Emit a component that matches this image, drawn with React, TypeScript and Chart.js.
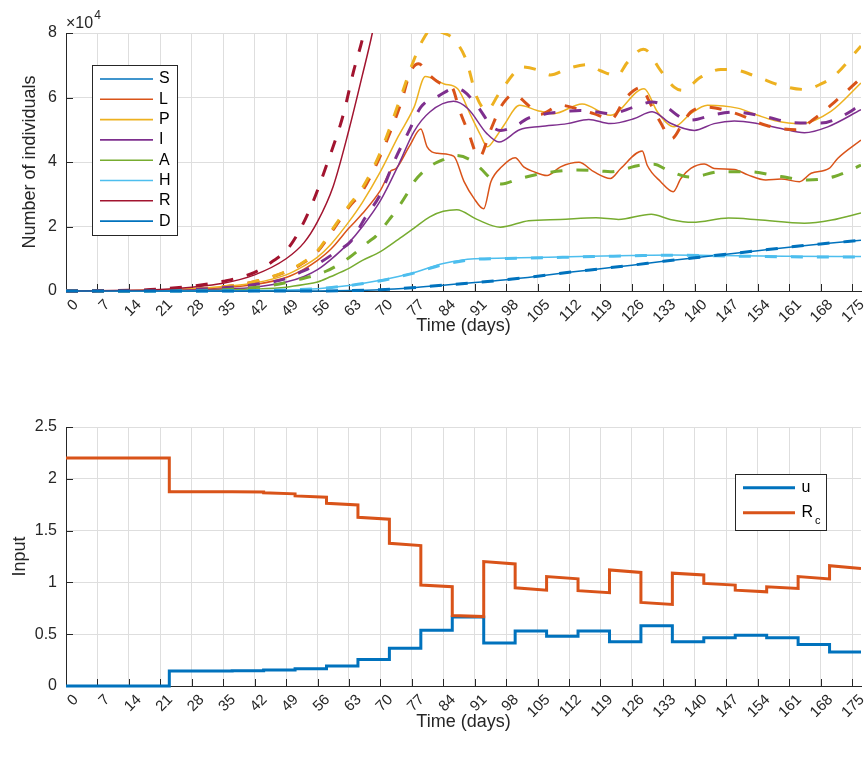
import React, { useEffect, useRef } from "react";
import { Chart, registerables } from "chart.js";

Chart.register(...registerables);

type Pt = [number, number];

// ---- Epidemic states (units of 10^4 individuals), solid = one run, dashed = the other ----
const DAY_TICKS = [0, 7, 14, 21, 28, 35, 42, 49, 56, 63, 70, 77, 84, 91, 98, 105, 112, 119, 126, 133, 140, 147, 154, 161, 168, 175];
const POP_TICKS = [0, 2, 4, 6, 8];

const S_SOLID: Pt[] = [];
const L_SOLID: Pt[] = [[0,0],[14,0.005],[21,0.02],[28,0.05],[35,0.1],[42,0.2],[49,0.42],[53,0.68],[56,0.95],[59,1.3],[63,1.95],[66,2.4],[70,3.12],[72.3,3.72],[73.5,3.8],[76.5,4.5],[79,5.02],[80.4,4.47],[82.7,4.27],[86.3,4.18],[88.6,3.4],[90.8,2.88],[93,2.55],[94.6,3.39],[97,3.85],[100,4.13],[101.9,3.85],[104.1,3.7],[107.1,3.58],[110.1,3.85],[114.2,3.99],[117.5,3.7],[121.2,3.49],[123.5,3.8],[128.3,4.34],[129.4,3.9],[132.4,3.39],[135.2,3.08],[136.9,3.49],[139.1,3.8],[142.1,3.94],[144.3,3.8],[148.8,3.77],[151.8,3.6],[155.8,3.44],[159.2,3.47],[163.3,3.39],[165.9,3.65],[169.9,3.8],[171.8,4.11],[177,4.68]];
const P_SOLID: Pt[] = [[0,0],[14,0.01],[21,0.03],[28,0.07],[35,0.14],[42,0.25],[49,0.5],[53,0.78],[56,1.05],[59,1.45],[63,2.15],[66,2.75],[70,3.7],[74,4.8],[77.5,5.7],[80,6.65],[84.2,6.42],[87.2,6.27],[90.1,5.45],[92.3,4.83],[93.8,4.47],[96,4.83],[97.5,5.14],[101,5.76],[104.9,5.6],[108.6,5.5],[114.9,5.8],[121.2,5.45],[128.7,6.27],[131.7,5.55],[135.4,5.09],[139.1,5.5],[142.8,5.76],[149.5,5.67],[154,5.45],[157.7,5.29],[163.6,5.19],[170.3,5.57],[177,6.45]];
const I_SOLID: Pt[] = [[0,0],[21,0.01],[28,0.03],[35,0.06],[42,0.12],[49,0.28],[53,0.45],[56,0.66],[59,0.98],[63,1.5],[66,2.0],[70,2.8],[74,3.9],[77.5,4.95],[81,5.55],[86.3,5.88],[89.5,5.65],[93.7,4.88],[96.4,4.62],[101,5.0],[105.6,5.1],[111.6,5.19],[116.4,5.32],[121.2,5.19],[126.4,5.34],[130.5,5.56],[134.6,5.2],[139.9,4.98],[144.3,5.19],[148.8,5.27],[154,5.19],[159.2,5.04],[164.4,4.91],[169.6,5.09],[177,5.62]];
const A_SOLID: Pt[] = [[0,0],[28,0.01],[35,0.03],[42,0.06],[49,0.12],[53,0.2],[56,0.28],[59,0.45],[63,0.7],[66,0.95],[70,1.22],[74,1.6],[77.5,1.95],[81,2.3],[84,2.47],[87,2.52],[91.5,2.22],[96.7,1.98],[103,2.18],[110,2.22],[118,2.27],[123,2.22],[130.3,2.38],[134.5,2.22],[139.5,2.13],[147.5,2.26],[154,2.21],[164.4,2.1],[170.5,2.2],[177,2.42]];
const H_SOLID: Pt[] = [[0,0],[35,0.005],[42,0.012],[49,0.03],[56,0.07],[63,0.17],[70,0.33],[77,0.55],[84,0.85],[91,1.0],[98,1.02],[112,1.06],[126,1.1],[135,1.12],[145,1.1],[160,1.08],[177,1.07]];
const R_SOLID: Pt[] = [[0,0],[7,0.005],[14,0.02],[21,0.05],[28,0.12],[35,0.24],[42,0.5],[49,1.0],[53,1.5],[56,2.15],[59.5,3.25],[63,5.0],[66,6.7],[68.2,8.0],[70,9.3]];
const D_SOLID: Pt[] = [[0,0],[56,0.003],[63,0.012],[70,0.04],[77,0.1],[84,0.18],[91,0.26],[98,0.35],[105,0.46],[112,0.58],[119,0.69],[126,0.8],[133,0.92],[140,1.03],[147,1.14],[154,1.25],[161,1.36],[168,1.46],[177,1.57]];

const L_DASHED: Pt[] = [[0,0],[14,0.01],[21,0.03],[28,0.06],[34,0.11],[41,0.26],[48.4,0.56],[52,0.8],[56,1.22],[59.5,1.9],[63,2.6],[66,3.1],[70,4.2],[74.5,5.8],[76.7,6.8],[78.5,7.05],[80.5,6.75],[84,6.4],[86,6.3],[87.5,5.65],[89.5,4.95],[92,4.15],[94.5,4.98],[97,5.75],[99.8,6.1],[102.6,5.8],[105.6,5.48],[110.1,5.76],[113.8,5.65],[117.5,5.5],[121.3,5.33],[124.7,6.0],[128.3,6.32],[129.6,5.95],[132.4,5.22],[134.8,4.72],[137.5,5.25],[139.1,5.55],[142.8,5.7],[148.8,5.52],[155.8,5.14],[162.5,5.0],[166.6,5.34],[171.1,5.86],[177,6.6]];
const P_DASHED: Pt[] = [[0,0],[14,0.01],[21,0.03],[28,0.06],[34,0.11],[41,0.26],[48.4,0.57],[52,0.82],[56,1.25],[59.5,1.95],[63,2.65],[66,3.2],[70,4.3],[74.5,6.0],[77,7.0],[79.5,7.8],[81.5,8.12],[84,8.0],[86,7.85],[89,7.2],[91.5,6.0],[93.7,5.6],[96.3,6.1],[99.6,6.73],[101.1,6.95],[105.6,6.83],[107.8,6.7],[111.6,6.89],[116,7.02],[119,6.83],[122.7,6.68],[125,7.09],[128.5,7.5],[129.4,7.45],[132.4,6.83],[135.4,6.32],[137.2,6.22],[141.3,6.63],[145.8,6.87],[148.8,6.86],[154,6.63],[159.2,6.37],[164.4,6.25],[168.1,6.42],[171.1,6.68],[177,7.6]];
const I_DASHED: Pt[] = [[0,0],[21,0.02],[28,0.05],[35,0.1],[42,0.2],[48.4,0.36],[52,0.57],[55.8,0.82],[60.3,1.23],[63.5,1.55],[66.5,2.25],[70,3.0],[73,4.0],[76.5,5.0],[79,5.7],[83,6.05],[86.5,6.28],[88.5,6.2],[91.5,5.75],[95,5.08],[96.8,4.98],[100.4,5.14],[102.6,5.34],[107.1,5.5],[111.6,5.57],[114.5,5.6],[118.2,5.55],[121.2,5.5],[126.4,5.7],[130.5,5.86],[133.1,5.76],[136.9,5.38],[139.1,5.3],[144.3,5.47],[148.8,5.55],[155.8,5.4],[162.1,5.22],[168.1,5.21],[172.5,5.4],[177,5.78]];
const A_DASHED: Pt[] = [[0,0],[28,0.01],[35,0.04],[44.7,0.15],[52,0.36],[58,0.62],[63,1.03],[67.5,1.54],[69,1.7],[72,2.22],[73,2.4],[76,3.03],[77,3.29],[80.4,3.8],[84.5,4.1],[86.8,4.2],[90.1,4.06],[92.3,3.8],[95,3.44],[97,3.32],[101.1,3.49],[106.3,3.65],[113.8,3.75],[119,3.72],[121.2,3.7],[127.9,3.9],[130.9,3.93],[133.9,3.75],[139.1,3.53],[145.8,3.7],[151.7,3.7],[159.2,3.55],[165.1,3.44],[171.1,3.55],[177,3.9]];
const H_DASHED: Pt[] = [[0,0],[35,0.005],[42,0.012],[49,0.03],[56,0.07],[63,0.17],[70,0.32],[77,0.54],[84,0.82],[91,0.98],[98,1.01],[112,1.05],[126,1.09],[135,1.11],[145,1.09],[160,1.06],[177,1.05]];
const R_DASHED: Pt[] = [[0,0],[7,0.005],[14,0.02],[21,0.06],[28,0.15],[35,0.3],[42,0.58],[46,0.92],[49,1.25],[51.5,1.75],[55,2.77],[58,3.9],[61.7,5.45],[64,6.8],[66.3,8.0],[68,9.3]];
const D_DASHED: Pt[] = [[0,0],[56,0.003],[63,0.012],[70,0.04],[77,0.1],[84,0.18],[91,0.26],[98,0.35],[105,0.46],[112,0.58],[119,0.69],[126,0.8],[133,0.92],[140,1.03],[147,1.14],[154,1.25],[161,1.36],[168,1.46],[177,1.57]];

// ---- Control input: weekly piecewise-constant u and the resulting R_c ----
const STEP_DAYS = [0, 23, 30, 37, 44, 51, 58, 65, 72, 79, 86, 93, 100, 107, 114, 121, 128, 135, 142, 149, 156, 163, 170, 177];
const U_LEVELS = [0, 0.145, 0.145, 0.147, 0.155, 0.167, 0.193, 0.255, 0.364, 0.539, 0.665, 0.416, 0.532, 0.48, 0.532, 0.426, 0.581, 0.426, 0.465, 0.49, 0.465, 0.4, 0.329];
const RC_START = [2.2, 1.876, 1.876, 1.875, 1.866, 1.835, 1.764, 1.629, 1.378, 0.975, 0.68, 1.201, 0.948, 1.057, 0.92, 1.12, 0.807, 1.089, 0.99, 0.925, 0.957, 1.057, 1.161];
const RC_END = [2.2, 1.876, 1.875, 1.873, 1.855, 1.822, 1.748, 1.61, 1.355, 0.958, 0.67, 1.178, 0.925, 1.034, 0.9, 1.096, 0.787, 1.072, 0.974, 0.909, 0.941, 1.034, 1.135];
const INPUT_TICKS = [0, 0.5, 1, 1.5, 2, 2.5];

const FONT = "'Liberation Sans', Arial, Helvetica, sans-serif";
const AXIS = "#262626";
const GRID = "#dedede";
const C = {
  blue: "#0072BD",
  orange: "#D95319",
  yellow: "#EDB120",
  purple: "#7E2F8E",
  green: "#77AC30",
  cyan: "#4DBEEE",
  red: "#A2142F",
};

// lines may spill over the bottom/left axis by their own width, but stop at the top edge
const LINE_CLIP = { left: 2, top: 0, right: 0, bottom: 3 };

const toXY = (pts: Pt[]) => pts.map(([x, y]) => ({ x, y }));

function stepSeries(starts: number[], ends: number[]) {
  const out: { x: number; y: number }[] = [];
  for (let i = 0; i < starts.length; i++) {
    out.push({ x: STEP_DAYS[i], y: starts[i] });
    out.push({ x: STEP_DAYS[i + 1], y: ends[i] });
  }
  return out;
}

const inwardTicks = {
  id: "inwardTicks",
  beforeDatasetsDraw(chart: any) {
    const { ctx, chartArea, scales } = chart;
    ctx.save();
    ctx.strokeStyle = AXIS;
    ctx.lineWidth = 1;
    ctx.beginPath();
    scales.x.ticks.forEach((t: any) => {
      const px = Math.round(scales.x.getPixelForValue(t.value)) + 0.5;
      ctx.moveTo(px, chartArea.bottom);
      ctx.lineTo(px, chartArea.bottom - 7);
    });
    scales.y.ticks.forEach((t: any) => {
      const py = Math.round(scales.y.getPixelForValue(t.value)) + 0.5;
      ctx.moveTo(chartArea.left, py);
      ctx.lineTo(chartArea.left + 7, py);
    });
    ctx.stroke();
    ctx.restore();
  },
};

type LegendRow = { label: string; sub?: string; color: string };
type LegendBox = {
  x: number; y: number; w: number; h: number;
  rowY: number; rowGap: number;
  lineX0: number; lineX1: number; textX: number; lineWidth: number;
  rows: LegendRow[];
};

function boxLegend(id: string, spec: LegendBox) {
  return {
    id,
    afterDraw(chart: any) {
      const ctx = chart.ctx as CanvasRenderingContext2D;
      ctx.save();
      ctx.fillStyle = "#ffffff";
      ctx.fillRect(spec.x, spec.y, spec.w, spec.h);
      ctx.strokeStyle = AXIS;
      ctx.lineWidth = 1;
      ctx.strokeRect(spec.x, spec.y, spec.w, spec.h);
      spec.rows.forEach((row, i) => {
        const y = spec.rowY + i * spec.rowGap;
        ctx.setLineDash([]);
        ctx.strokeStyle = row.color;
        ctx.lineWidth = spec.lineWidth;
        ctx.beginPath();
        ctx.moveTo(spec.lineX0, y);
        ctx.lineTo(spec.lineX1, y);
        ctx.stroke();
        ctx.fillStyle = "#000000";
        ctx.font = `16px ${FONT}`;
        ctx.textAlign = "left";
        ctx.textBaseline = "middle";
        ctx.fillText(row.label, spec.textX, y);
        if (row.sub) {
          const w = ctx.measureText(row.label).width;
          ctx.font = `11px ${FONT}`;
          ctx.textBaseline = "alphabetic";
          ctx.fillText(row.sub, spec.textX + w + 2, y + 11);
        }
      });
      ctx.restore();
    },
  };
}

const exponentLabel = {
  id: "exponentLabel",
  afterDraw(chart: any) {
    const ctx = chart.ctx as CanvasRenderingContext2D;
    ctx.save();
    ctx.fillStyle = AXIS;
    ctx.textAlign = "left";
    ctx.textBaseline = "alphabetic";
    ctx.font = `16px ${FONT}`;
    const base = "\u00d710";
    ctx.fillText(base, 66, 28);
    const w = ctx.measureText(base).width;
    ctx.font = `12px ${FONT}`;
    ctx.fillText("4", 66 + w + 1, 19);
    ctx.restore();
  },
};

function xAxis(height: number) {
  return {
    type: "linear" as const,
    min: 0,
    max: 177,
    afterBuildTicks: (s: any) => {
      s.ticks = DAY_TICKS.map((v) => ({ value: v }));
    },
    afterFit: (s: any) => {
      s.height = height;
      s.paddingLeft = 0;
      s.paddingRight = 0;
    },
    ticks: {
      autoSkip: false,
      minRotation: 45,
      maxRotation: 45,
      labelOffset: 10,
      padding: 5,
      color: AXIS,
      font: { family: FONT, size: 15 },
      callback: (v: any) => String(Number(v)),
    },
    grid: { color: GRID, drawTicks: false },
    border: { color: AXIS, width: 1 },
    title: {
      display: true,
      text: "Time (days)",
      color: AXIS,
      font: { family: FONT, size: 18 },
      padding: { top: 0, bottom: 0 },
    },
  };
}

function yAxis(min: number, max: number, ticks: number[], title: string, titlePad: number) {
  return {
    type: "linear" as const,
    min,
    max,
    afterBuildTicks: (s: any) => {
      s.ticks = ticks.map((v) => ({ value: v }));
    },
    afterFit: (s: any) => {
      s.width = 66;
      s.paddingTop = 0;
      s.paddingBottom = 0;
    },
    ticks: {
      padding: 9,
      color: AXIS,
      font: { family: FONT, size: 16 },
      callback: (v: any) => String(Number(v)),
    },
    grid: { color: GRID, drawTicks: false },
    border: { color: AXIS, width: 1 },
    title: {
      display: true,
      text: title,
      color: AXIS,
      font: { family: FONT, size: 18 },
      padding: { top: titlePad, bottom: 0 },
    },
  };
}

function solid(pts: Pt[], color: string) {
  return {
    data: toXY(pts),
    borderColor: color,
    borderWidth: 1.5,
    cubicInterpolationMode: "monotone" as const,
    pointRadius: 0,
    fill: false,
    clip: LINE_CLIP,
  };
}

function dashed(pts: Pt[], color: string) {
  return {
    data: toXY(pts),
    borderColor: color,
    borderWidth: 3,
    borderDash: [12, 14],
    cubicInterpolationMode: "monotone" as const,
    pointRadius: 0,
    fill: false,
    clip: LINE_CLIP,
  };
}

export default function App() {
  const topRef = useRef<HTMLCanvasElement>(null);
  const botRef = useRef<HTMLCanvasElement>(null);

  useEffect(() => {
    const stateSets = [
      solid(S_SOLID, C.blue),
      solid(L_SOLID, C.orange),
      solid(P_SOLID, C.yellow),
      solid(I_SOLID, C.purple),
      solid(A_SOLID, C.green),
      solid(H_SOLID, C.cyan),
      solid(R_SOLID, C.red),
      solid(D_SOLID, C.blue),
      dashed(L_DASHED, C.orange),
      dashed(P_DASHED, C.yellow),
      dashed(I_DASHED, C.purple),
      dashed(A_DASHED, C.green),
      dashed(H_DASHED, C.cyan),
      dashed(R_DASHED, C.red),
      dashed(D_DASHED, C.blue),
    ].map((d, i) => ({ ...d, order: -i }));

    const top = new Chart(topRef.current!, {
      type: "line",
      data: { datasets: stateSets as any },
      options: {
        responsive: false,
        animation: false,
        devicePixelRatio: 1,
        parsing: false as any,
        layout: { padding: { top: 33, right: 7, left: 0, bottom: 0 } },
        plugins: { legend: { display: false }, tooltip: { enabled: false } },
        scales: {
          x: xAxis(46) as any,
          y: yAxis(0, 8, POP_TICKS, "Number of individuals", 19) as any,
        },
      },
      plugins: [
        inwardTicks,
        exponentLabel,
        boxLegend("stateLegend", {
          x: 92.5, y: 65.5, w: 85, h: 170,
          rowY: 79, rowGap: 20.3,
          lineX0: 100, lineX1: 153, textX: 159, lineWidth: 1.6,
          rows: [
            { label: "S", color: C.blue },
            { label: "L", color: C.orange },
            { label: "P", color: C.yellow },
            { label: "I", color: C.purple },
            { label: "A", color: C.green },
            { label: "H", color: C.cyan },
            { label: "R", color: C.red },
            { label: "D", color: C.blue },
          ],
        }),
      ],
    });

    const bottom = new Chart(botRef.current!, {
      type: "line",
      data: {
        datasets: [
          {
            data: stepSeries(RC_START, RC_END),
            borderColor: C.orange,
            borderWidth: 3,
            pointRadius: 0,
            tension: 0,
            fill: false,
            clip: LINE_CLIP,
          },
          {
            data: stepSeries(U_LEVELS, U_LEVELS),
            borderColor: C.blue,
            borderWidth: 3,
            pointRadius: 0,
            tension: 0,
            fill: false,
            clip: LINE_CLIP,
          },
        ] as any,
      },
      options: {
        responsive: false,
        animation: false,
        devicePixelRatio: 1,
        parsing: false as any,
        layout: { padding: { top: 90, right: 7, left: 0, bottom: 0 } },
        plugins: { legend: { display: false }, tooltip: { enabled: false } },
        scales: {
          x: xAxis(47) as any,
          y: yAxis(0, 2.5, INPUT_TICKS, "Input", 9) as any,
        },
      },
      plugins: [
        inwardTicks,
        boxLegend("inputLegend", {
          x: 735.5, y: 137.5, w: 91, h: 56,
          rowY: 150.7, rowGap: 25,
          lineX0: 743, lineX1: 795, textX: 801.5, lineWidth: 3,
          rows: [
            { label: "u", color: C.blue },
            { label: "R", sub: "c", color: C.orange },
          ],
        }),
      ],
    });

    return () => {
      top.destroy();
      bottom.destroy();
    };
  }, []);

  return (
    <div style={{ position: "absolute", left: 0, top: 0, width: 868, height: 757, background: "#ffffff" }}>
      <canvas ref={topRef} width={868} height={337} style={{ position: "absolute", left: 0, top: 0 }} />
      <canvas ref={botRef} width={868} height={396} style={{ position: "absolute", left: 0, top: 337 }} />
    </div>
  );
}
